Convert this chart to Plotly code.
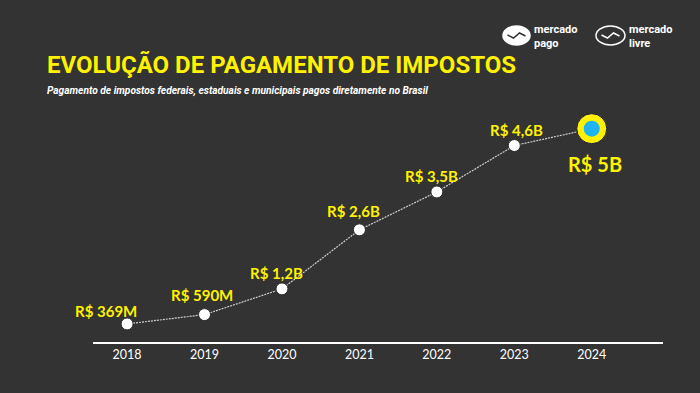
import plotly.graph_objects as go

years = [2018, 2019, 2020, 2021, 2022, 2023, 2024]
values_bn = [0.369, 0.59, 1.2, 2.6, 3.5, 4.6, 5.0]
value_labels = ["R$ 369M", "R$ 590M", "R$ 1,2B", "R$ 2,6B", "R$ 3,5B", "R$ 4,6B", "R$ 5B"]
tick_labels = ["2018", "2019", "2020", "2021", "2022", "2023", "2024"]

BG = "#333333"
YEL = "#FFF200"
BLUE = "#1EB4F0"
W, H = 700, 393
L, R, T, B = 93, 37, 100, 51
PW, PH = W - L - R, H - T - B

def px(x):
    return (x - L) / PW

def py(y):
    return (H - B - y) / PH

fig = go.Figure()

# line + white markers for past years
fig.add_trace(go.Scatter(
    x=years, y=values_bn, mode="lines",
    line=dict(color="#cfcfcf", width=1.2, dash="2px,1px"),
    hoverinfo="skip", showlegend=False))
fig.add_trace(go.Scatter(
    x=years[:-1], y=values_bn[:-1], mode="markers",
    marker=dict(size=12, color="white", line=dict(color="#2a2a2a", width=1)),
    showlegend=False))
# highlighted last point
fig.add_trace(go.Scatter(
    x=years[-1:], y=values_bn[-1:], mode="markers",
    marker=dict(size=30, color=YEL, line=dict(color="#1d1d3a", width=1)),
    showlegend=False))
fig.add_trace(go.Scatter(
    x=years[-1:], y=values_bn[-1:], mode="markers",
    marker=dict(size=16, color=BLUE, line=dict(width=0)),
    showlegend=False))

# value labels
shifts = [(-21, 13), (-3, 20), (-5, 16), (-6, 19), (-5, 16), (2, 16), (3, -35)]
for i, (x, y, t) in enumerate(zip(years, values_bn, value_labels)):
    big = i == len(years) - 1
    fig.add_annotation(
        x=x, y=y, text="<b>%s</b>" % t, showarrow=False,
        xshift=shifts[i][0], yshift=shifts[i][1],
        font=dict(family="Lato, Roboto, sans-serif", size=20 if big else 15, color=YEL))

# title and subtitle
fig.add_annotation(
    xref="paper", yref="paper", x=px(45), y=py(65), xanchor="left", yanchor="middle",
    text="<b>EVOLUÇÃO DE PAGAMENTO DE IMPOSTOS</b>", showarrow=False,
    font=dict(family="Roboto, sans-serif", size=24, color=YEL))
fig.add_annotation(
    xref="paper", yref="paper", x=px(45), y=py(91), xanchor="left", yanchor="middle",
    text="<b><i>Pagamento de impostos federais, estaduais e municipais pagos diretamente no Brasil</i></b>",
    showarrow=False, font=dict(family="Roboto, sans-serif", size=10.2, color="white"))

# logos
for (ex0, ex1, tx, line2, filled) in [(503, 530, 532, "pago", True), (596, 625, 627, "livre", False)]:
    fig.add_shape(type="circle", xref="paper", yref="paper",
                  x0=px(ex0), x1=px(ex1), y0=py(45), y1=py(26),
                  fillcolor="white" if filled else BG,
                  line=dict(color="white", width=1.5))
    cx = (ex0 + ex1) / 2
    fig.add_shape(type="path", xref="paper", yref="paper",
                  path="M %f,%f L %f,%f L %f,%f L %f,%f" % (
                      px(cx - 9), py(35), px(cx - 3), py(38), px(cx + 3), py(33), px(cx + 9), py(36)),
                  line=dict(color=BG if filled else "white", width=1.5))
    fig.add_annotation(
        xref="paper", yref="paper", x=px(tx), y=py(36), xanchor="left", yanchor="middle",
        text="<b>mercado<br>%s</b>" % line2, showarrow=False, align="left",
        font=dict(family="Roboto, sans-serif", size=11, color="white"))

fig.update_layout(
    width=W, height=H,
    margin=dict(l=L, r=R, t=T, b=B, pad=0),
    paper_bgcolor=BG, plot_bgcolor=BG,
    xaxis=dict(range=[2017.56, 2024.92], tickvals=years, ticktext=tick_labels,
               showgrid=False, zeroline=False, showline=True, linecolor="white", linewidth=2,
               ticks="", tickfont=dict(family="Lato, Roboto, sans-serif", size=12.5, color="white"),
               fixedrange=True),
    yaxis=dict(range=[-0.06, 5.68], visible=False, showgrid=False, zeroline=False, fixedrange=True),
)

fig.write_html("out.html", config={"displayModeBar": False},
               post_script="document.body.style.margin='0';document.body.style.background='%s';" % BG)
